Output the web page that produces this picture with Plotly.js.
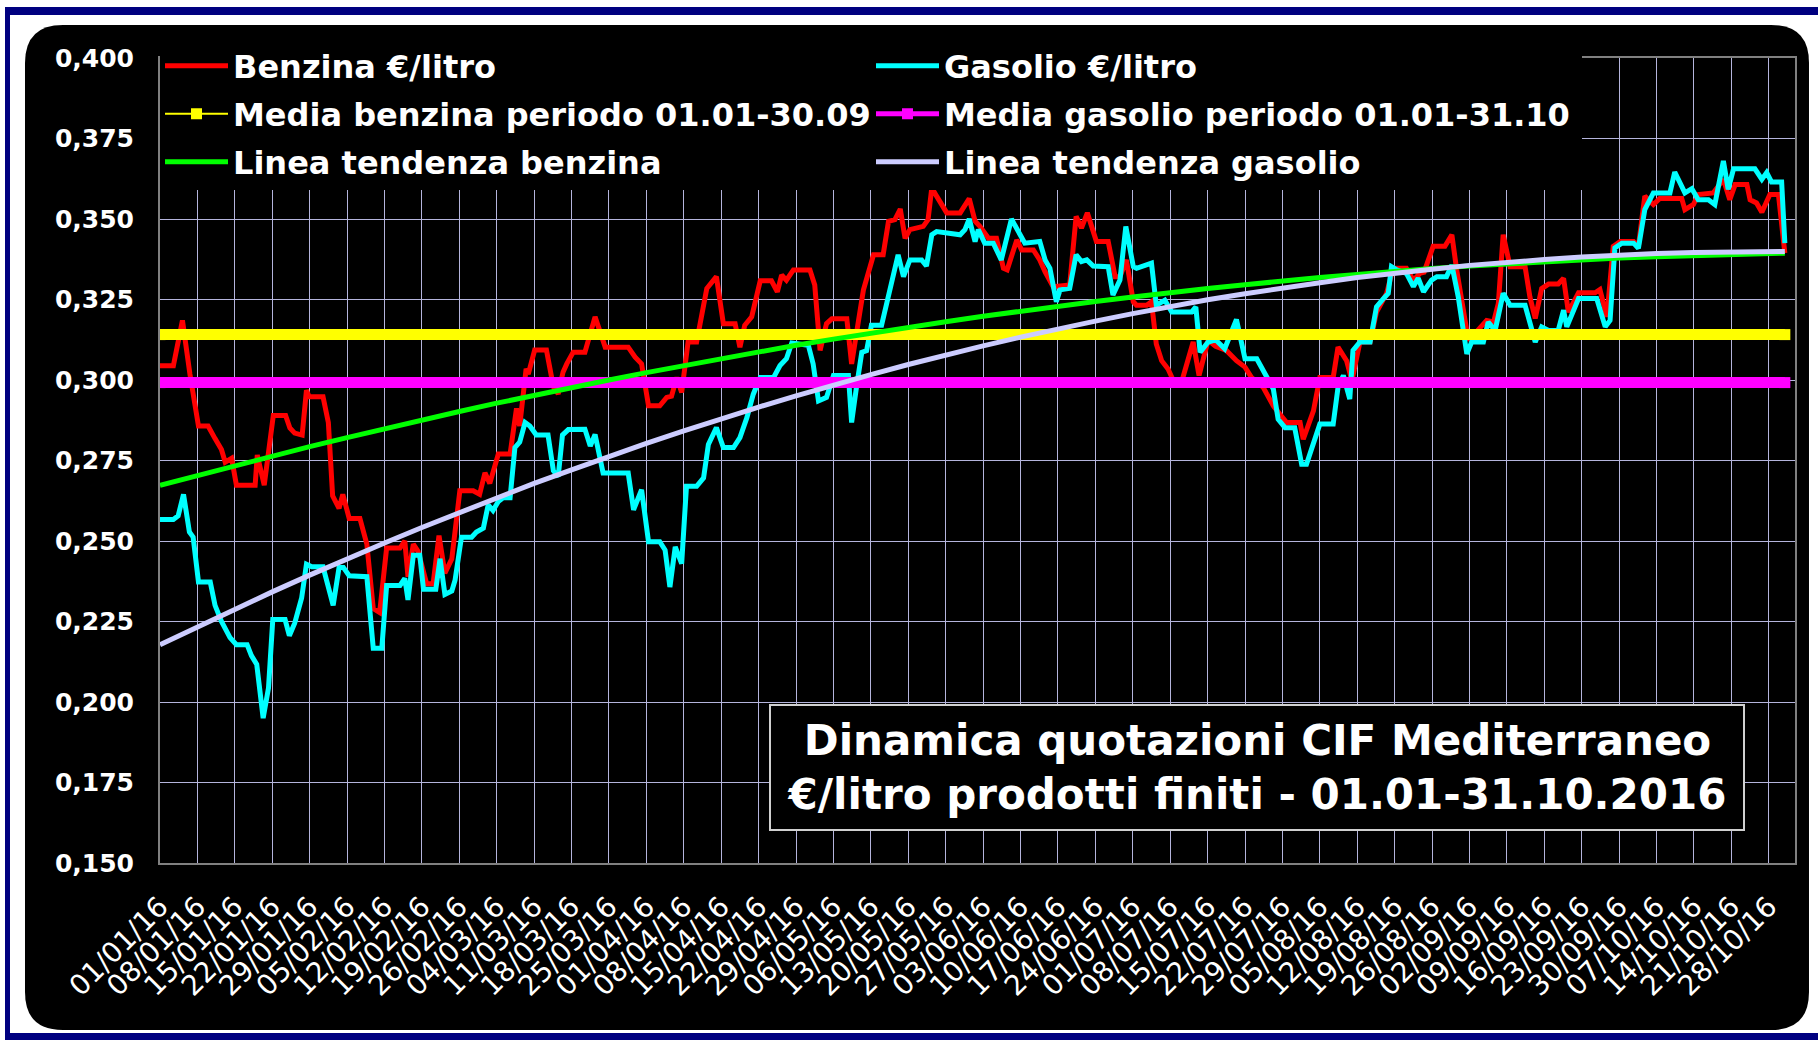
<!DOCTYPE html>
<html><head><meta charset="utf-8">
<script src="https://cdn.plot.ly/plotly-3.0.1.min.js"></script>
<style>html,body{margin:0;padding:0;background:#fff;} #chart{width:1818px;height:1040px;}</style>
</head><body><div id="chart"></div>
<script>
// ---- DATA (x = days since 01/01/2016) ----
const tickLabels = ['01/01/16','08/01/16','15/01/16','22/01/16','29/01/16','05/02/16','12/02/16','19/02/16','26/02/16','04/03/16','11/03/16','18/03/16','25/03/16','01/04/16','08/04/16','15/04/16','22/04/16','29/04/16','06/05/16','13/05/16','20/05/16','27/05/16','03/06/16','10/06/16','17/06/16','24/06/16','01/07/16','08/07/16','15/07/16','22/07/16','29/07/16','05/08/16','12/08/16','19/08/16','26/08/16','02/09/16','09/09/16','16/09/16','23/09/16','30/09/16','07/10/16','14/10/16','21/10/16','28/10/16'];

const benzinaDays = [
0,2.5,4.2,5.6,7.2,9,10.3,11.5,12.2,13.4,
14.3,17.8,18.2,19.5,21.2,23.5,24.3,25.2,26.6,27.4,
27.9,30.5,31.5,32.3,33.5,34.2,35.4,37.4,38.7,39.9,
41.1,42.4,44.9,45.8,46.4,47.4,48.3,49.9,51.1,52.2,
53.3,54.6,56.1,58.6,59.8,60.8,61.7,63.3,65.5,66.7,
67.3,68.5,68.9,70.1,72.3,73.6,74.5,75.4,76.1,77.3,
79.5,81.4,83.3,87.6,88.9,90.1,91.4,93.5,94.8,95.7,
96.7,97.6,98.8,100.4,102.3,104.1,105.4,107.6,108.5,109.4,
110.7,112.3,114.4,115.5,116.3,117.2,118.5,121.6,122.5,123.5,
124.7,125.7,128.5,129.4,130.3,131.6,133.5,135.3,136.3,137.5,
138.5,139.4,140.3,142.8,143.7,144.4,145.3,147.2,149.7,151.4,
152.5,153.4,155,156.5,157.8,158.5,160.3,161.2,163.4,164.6,
165.6,167.1,170.2,171.4,172.4,173.5,175.2,177.4,178.7,179.6,
180.8,182.1,182.7,184.6,185.5,186.4,187.4,188.6,189.9,191.1,
193.3,194.4,196.1,197.5,199.5,201.4,203,204.2,206.4,208.3,
209.5,210.8,213.3,213.9,215.8,217,219.5,220.4,222,223,
224.5,226.4,227.6,229.5,230.7,233.2,234.5,235.7,236.5,238.2,
240.4,241.7,242.6,243.5,244.8,246,248.2,249.5,250.4,251.3,
252.6,255.4,256.3,257.3,258.5,259.8,261.6,262.6,263.5,265.4,
268.5,269.4,270.7,271.9,273.2,275.7,276.6,277.8,279.4,280.6,
284.7,285.3,286.9,287.8,290.6,292.5,293.7,294.7,296.9,297.5,
298.7,299.7,301.2,302.8,303.7,304];
const benzinaVals = [
.3044,.3044,.3185,.3018,.2857,.2857,.2818,.2784,.2745,.2757,
.2673,.2673,.2767,.2673,.289,.289,.2851,.2835,.2829,.2968,
.2948,.2948,.2868,.264,.2601,.2645,.257,.257,.249,.229,
.2278,.2478,.2478,.25,.2389,.249,.2467,.2367,.2367,.2517,
.24,.2445,.2656,.2656,.2645,.2712,.2679,.277,.277,.2912,
.2857,.3035,.3018,.3093,.3093,.2979,.2957,.3024,.305,.3086,
.3086,.3196,.3102,.3102,.3071,.305,.292,.292,.2946,.295,
.3008,.2961,.3118,.3118,.3284,.3321,.3175,.3175,.3102,.317,
.3196,.3308,.3308,.3274,.3326,.331,.3342,.3342,.3295,.3092,
.3175,.319,.319,.305,.3144,.3279,.3389,.3389,.3493,.3498,
.3531,.344,.3467,.3477,.3498,.3597,.3571,.3519,.3519,.3563,
.3493,.3477,.344,.344,.3347,.3342,.3435,.3404,.3404,.3373,
.3336,.329,.3295,.3508,.3472,.3519,.343,.343,.3321,.3321,
.3373,.3243,.3232,.3232,.3243,.3112,.306,.3034,.2987,.2992,
.3118,.3014,.3123,.3105,.3092,.306,.304,.3008,.2977,.292,
.2894,.2868,.2868,.2816,.2904,.3008,.3008,.3102,.306,.2998,
.3118,.3118,.3211,.3269,.3347,.3347,.331,.3331,.3335,.3415,
.3415,.3451,.3342,.3258,.3123,.3144,.3185,.318,.3238,.3451,
.3352,.3352,.3258,.3191,.3284,.3298,.3298,.3316,.3211,.3271,
.3271,.3281,.3196,.3415,.343,.343,.3415,.3571,.3545,.3564,
.3564,.3529,.3545,.3576,.3581,.3623,.356,.3607,.3607,.356,
.355,.3521,.3576,.3576,.342,.3394];

const gasolioDays = [
0,2.5,3.4,4.4,5.5,6.2,7.2,9.4,10.3,11.5,
13.1,14.3,16.3,17.1,18.1,19.3,20.3,21.1,23.4,24.2,
25.2,26.5,27.4,28.4,30.5,32.4,33.5,34.3,35.4,37.7,
38.7,39.9,41.5,42.4,44.9,45.8,46.4,47.4,48.6,49.3,
51.6,52.4,53.3,54.6,55.2,56.4,58.3,59.2,60.5,61.4,
62.3,63.3,64.2,65.5,66.4,67.3,68.3,69.2,70.4,72.6,
73.6,74.5,75.3,76.4,79.5,80.5,81.4,82.9,87.6,88.6,
90.1,91.4,93.5,94.5,95.4,96.4,97.6,98.5,100.4,101.7,
102.6,104.1,105.4,107.3,108.5,109.8,111,112.3,114.8,116,
117.2,118.2,121.3,122.2,123.2,124.7,126,128.8,129.4,130.3,
131.3,132.2,133.1,135,136.3,137.2,138.1,139.1,140.3,142.5,
143.4,144.4,145.3,149.7,150.6,151.4,152.5,153.1,154.3,155.9,
157.4,159.3,160.6,161.8,164.6,165.6,166.5,167.7,168.4,170.2,
171.4,172.4,173.4,174.6,177.4,178.3,179.6,180.7,182.1,182.7,
185.5,186.4,188,189.3,193,193.8,194.6,196.1,197.5,199.2,
201.4,203,205.2,207,208.3,209.2,210.5,212.3,213.6,214.5,
217,219.5,220.4,221.4,222.6,223.2,224.5,226.4,227.6,228.9,
229.8,230.4,231.4,233.2,234.5,235.4,236.4,237.9,238.9,240.7,
241.7,242.9,244.5,245.4,247.6,248.5,249.8,251.3,252.6,255.4,
256.3,257.3,258.5,259.8,261.6,262.6,263.2,265.4,268.8,270.4,
271.3,272.2,273.5,275.7,276.6,277.8,279.4,282.5,283.4,285.3,
286.6,287.8,289.7,290.9,292.5,293.4,294.4,298.4,299.7,300.6,
301.5,303.4,304];
const gasolioVals = [
.2567,.2567,.2578,.2645,.2528,.2512,.2373,.2373,.23,.225,
.22,.2178,.2178,.2144,.2117,.195,.2044,.2256,.2256,.2206,
.2245,.2323,.2428,.242,.242,.23,.2418,.2418,.2392,.2392,
.2389,.2167,.2167,.2362,.2362,.2384,.2317,.2456,.2456,.235,
.235,.2445,.2334,.2345,.2378,.2512,.2512,.2528,.254,.2612,
.2595,.2623,.2634,.2634,.279,.2807,.2868,.2857,.2829,.2829,
.2718,.27,.2829,.2846,.2847,.2795,.2831,.2711,.2711,.2597,
.2659,.2498,.2498,.2472,.2357,.2482,.243,.267,.267,.2696,
.28,.2852,.279,.279,.2821,.2883,.2956,.3008,.3008,.3045,
.3066,.3115,.3108,.305,.2935,.2946,.3014,.3014,.2868,.2977,
.3086,.3091,.317,.317,.3264,.3316,.3389,.3321,.3373,.3373,
.3354,.3451,.3461,.3451,.3467,.35,.343,.3467,.3425,.3425,
.3373,.35,.3461,.3425,.343,.3373,.3347,.3243,.328,.3285,
.3389,.3368,.3373,.3354,.3352,.3264,.331,.3477,.3352,.3347,
.3363,.3232,.3248,.3211,.3211,.3227,.3086,.3118,.3125,.3097,
.3188,.3066,.3066,.3008,.2972,.2878,.2852,.2852,.2738,.2738,
.2863,.2863,.2977,.3014,.2941,.3092,.3118,.3118,.3227,.3253,
.3269,.3352,.3342,.3331,.329,.3316,.3274,.331,.3321,.3321,
.3357,.3258,.3081,.3118,.3118,.318,.3154,.3269,.3232,.3232,
.3175,.3118,.3165,.3154,.3154,.3217,.3165,.3253,.3253,.3165,
.3185,.341,.3425,.3425,.3409,.3529,.3581,.3581,.3646,.3581,
.3594,.356,.356,.3545,.368,.3592,.3656,.3656,.3623,.3644,
.3615,.3615,.3425];

const mediaBenzina = 0.3141;   // media 01.01-30.09
const mediaGasolio = 0.2992;   // media 01.01-31.10
const periodDays = [0, 304];

const trendDays = [0,7,14,21,28,35,42,49,56,63,70,77,84,91,98,105,112,119,126,133,140,147,154,161,168,175,182,189,196,203,210,217,224,231,238,245,252,259,266,273,280,287,294,301,304];
const trendBenzina = [0.2673,0.2704,0.2734,0.2764,0.2793,0.2821,0.2849,0.2876,0.2902,0.2928,0.2953,0.2977,0.3000,0.3023,0.3045,0.3067,0.3088,0.3108,0.3127,0.3146,0.3164,0.3181,0.3198,0.3214,0.3230,0.3244,0.3258,0.3272,0.3284,0.3296,0.3308,0.3318,0.3328,0.3338,0.3346,0.3354,0.3361,0.3368,0.3374,0.3379,0.3383,0.3387,0.3390,0.3393,0.3394];
const trendGasolio = [0.2178,0.2234,0.2289,0.2342,0.2394,0.2445,0.2494,0.2542,0.2589,0.2635,0.2679,0.2721,0.2763,0.2803,0.2842,0.2880,0.2916,0.2951,0.2985,0.3017,0.3048,0.3078,0.3106,0.3133,0.3159,0.3183,0.3206,0.3228,0.3249,0.3268,0.3286,0.3302,0.3318,0.3332,0.3344,0.3356,0.3366,0.3374,0.3382,0.3388,0.3393,0.3396,0.3398,0.3399,0.3399];

const tickDays = tickLabels.map((_, i) => i * 7);

// ---- LAYOUT GEOMETRY (pixels) ----
const W = 1818, H = 1040, L = 160, R = 1795, T = 58, B = 863;
const px = X => (X - L) / (R - L);
const py = Y => (B - Y) / (B - T);
const FONT = 'DejaVu Sans';

function roundRectPath(x0, y0, x1, y1, r) {
  const p = (X, Y) => px(X).toFixed(5) + ',' + py(Y).toFixed(5);
  return 'M' + p(x0 + r, y0) + ' L' + p(x1 - r, y0) + ' Q' + p(x1, y0) + ' ' + p(x1, y0 + r) +
    ' L' + p(x1, y1 - r) + ' Q' + p(x1, y1) + ' ' + p(x1 - r, y1) +
    ' L' + p(x0 + r, y1) + ' Q' + p(x0, y1) + ' ' + p(x0, y1 - r) +
    ' L' + p(x0, y0 + r) + ' Q' + p(x0, y0) + ' ' + p(x0 + r, y0) + ' Z';
}
function rect(x0, y0, x1, y1, color, layer) {
  return {type: 'rect', xref: 'paper', yref: 'paper', x0: px(x0), x1: px(x1), y0: py(y1), y1: py(y0),
          fillcolor: color, line: {width: 0}, layer: layer || 'below'};
}

const traces = [
  {x: benzinaDays, y: benzinaVals, name: 'Benzina €/litro', mode: 'lines', line: {color: '#FF0000', width: 5}, legend: 'legend'},
  {x: gasolioDays, y: gasolioVals, name: 'Gasolio €/litro', mode: 'lines', line: {color: '#00FFFF', width: 5}, legend: 'legend'},
  {x: periodDays, y: periodDays.map(() => mediaBenzina), mode: 'lines', line: {color: '#FFFF00', width: 11}, showlegend: false, hoverinfo: 'skip'},
  {x: periodDays, y: periodDays.map(() => mediaGasolio), mode: 'lines', line: {color: '#FF00FF', width: 11}, showlegend: false, hoverinfo: 'skip'},
  {x: periodDays, y: periodDays.map(() => mediaBenzina), name: 'Media benzina periodo 01.01-30.09', mode: 'lines+markers',
   line: {color: '#FFFF00', width: 2}, marker: {symbol: 'square', size: 11, color: '#FFFF00'}, legend: 'legend2'},
  {x: periodDays, y: periodDays.map(() => mediaGasolio), name: 'Media gasolio periodo 01.01-31.10', mode: 'lines+markers',
   line: {color: '#FF00FF', width: 5}, marker: {symbol: 'square', size: 11, color: '#FF00FF'}, legend: 'legend2'},
  {x: trendDays, y: trendBenzina, name: 'Linea tendenza benzina', mode: 'lines', line: {color: '#00FF00', width: 5}, legend: 'legend3'},
  {x: trendDays, y: trendGasolio, name: 'Linea tendenza gasolio', mode: 'lines', line: {color: '#CCCCFF', width: 5}, legend: 'legend3'}
];

function legendRow(yCenter) {
  return {
    orientation: 'h', x: 0, xanchor: 'left', y: py(yCenter), yanchor: 'middle',
    bgcolor: '#000000', borderwidth: 0,
    font: {family: FONT, size: 32, color: '#FFFFFF', weight: 'bold'},
    entrywidth: 633, entrywidthmode: 'pixels', itemwidth: 63, traceorder: 'normal'
  };
}

const layout = {
  width: W, height: H,
  margin: {l: L, r: W - R, t: T, b: H - B, pad: 0},
  paper_bgcolor: '#FFFFFF',
  plot_bgcolor: '#000000',
  separators: ',.',
  showlegend: true,
  xaxis: {
    type: 'linear', range: [0, 305.9], tickmode: 'array', tickvals: tickDays, ticktext: tickLabels,
    tickangle: -45, tickfont: {family: FONT, size: 28, color: '#FFFFFF'},
    ticks: '', ticklabelstandoff: 14,
    showgrid: true, gridcolor: '#B4B4DC', gridwidth: 1,
    showline: true, linecolor: '#808080', linewidth: 2, mirror: true, zeroline: false, fixedrange: true
  },
  yaxis: {
    range: [0.150, 0.400], dtick: 0.025, tick0: 0.150, tickformat: '.3f',
    tickfont: {family: FONT, size: 25, color: '#FFFFFF', weight: 'bold'},
    ticks: '', ticklabelstandoff: 19,
    showgrid: true, gridcolor: '#B4B4DC', gridwidth: 1,
    showline: true, linecolor: '#808080', linewidth: 2, mirror: true, zeroline: false, fixedrange: true
  },
  legend: legendRow(66),
  legend2: legendRow(114),
  legend3: legendRow(162),
  shapes: [
    rect(5, 7, 1818, 15, '#000080'),
    rect(5, 7, 10, 1040, '#000080'),
    rect(5, 1033, 1818, 1040, '#000080'),
    {type: 'path', xref: 'paper', yref: 'paper', path: roundRectPath(25, 25, 1809, 1030, 38),
     fillcolor: '#000000', line: {width: 0}, layer: 'below'},
    rect(158, 40, 1573, 185, '#000000', 'between')
  ],
  annotations: [{
    xref: 'paper', yref: 'paper', x: px(769), y: py(704), xanchor: 'left', yanchor: 'top',
    width: 972, height: 123, borderpad: 0, borderwidth: 2, bordercolor: '#D0D0D0', bgcolor: '#000000',
    showarrow: false, align: 'center', valign: 'middle',
    text: 'Dinamica quotazioni CIF Mediterraneo<br>€/litro prodotti finiti - 01.01-31.10.2016',
    font: {family: FONT, size: 42, color: '#FFFFFF', weight: 'bold'}
  }]
};

Plotly.newPlot('chart', traces, layout, {displayModeBar: false, staticPlot: true});
</script></body></html>
